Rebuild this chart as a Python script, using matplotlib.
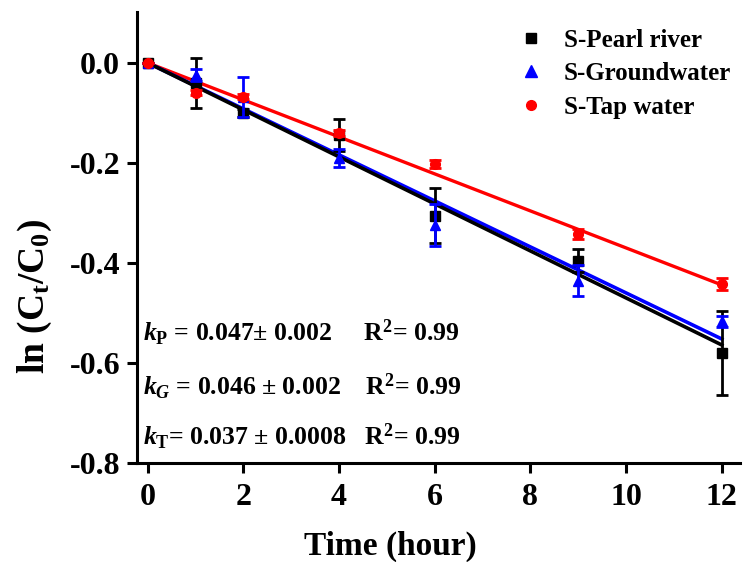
import matplotlib
matplotlib.use('Agg')
import matplotlib.pyplot as plt
from matplotlib.lines import Line2D
import numpy as np

plt.rcParams['font.family'] = 'Liberation Serif'
plt.rcParams['font.weight'] = 'bold'
plt.rcParams['mathtext.fontset'] = 'custom'
plt.rcParams['mathtext.rm'] = 'Liberation Serif:bold'
plt.rcParams['mathtext.bf'] = 'Liberation Serif:bold'
plt.rcParams['mathtext.it'] = 'Liberation Serif:italic:bold'

# time points (hour)
time = [0, 1, 2, 4, 6, 9, 12]

# S-Pearl river
pearl = [0.0, -0.040, -0.100, -0.145, -0.306, -0.396, -0.580]
pearl_err = [0.0, 0.050, 0.008, 0.032, 0.055, 0.023, 0.084]

# S-Groundwater
ground = [0.0, -0.025, -0.068, -0.190, -0.325, -0.436, -0.517]
ground_err = [0.0, 0.012, 0.040, 0.018, 0.042, 0.031, 0.010]

# S-Tap water
tap = [0.0, -0.060, -0.068, -0.140, -0.203, -0.343, -0.443]
tap_err = [0.0, 0.005, 0.005, 0.006, 0.008, 0.010, 0.012]

# fitted rate constants (slope of ln(Ct/C0) vs t)
k_pearl = 0.047
k_ground = 0.046
k_tap = 0.037

fig = plt.figure(figsize=(7.43, 5.62), dpi=100)
ax = fig.add_axes([0.184, 0.176, 0.812, 0.803])

t_fit = np.array([time[0], time[-1]])
ax.plot(t_fit, -k_tap * t_fit, color='red', lw=2.4, zorder=2)
ax.plot(t_fit, -k_ground * t_fit, color='blue', lw=2.6, zorder=2)
ax.plot(t_fit, -k_pearl * t_fit, color='black', lw=2.6, zorder=2)

eb = dict(capsize=4, elinewidth=2, capthick=2, lw=0, ms=7)
ax.errorbar(time, pearl, yerr=pearl_err, fmt='s', color='black', zorder=3, **eb)
ax.errorbar(time, ground, yerr=ground_err, fmt='^', color='blue', zorder=4, **eb)
ax.errorbar(time, tap, yerr=tap_err, fmt='o', color='red', zorder=5, **eb)

ax.set_xlim(-0.23, 12.38)
ax.set_ylim(-0.8, 0.102)
ax.set_xticks([0, 2, 4, 6, 8, 10, 12])
ax.set_yticks([0.0, -0.2, -0.4, -0.6, -0.8])
ax.set_yticklabels(['0.0', '-0.2', '-0.4', '-0.6', '-0.8'])

for s in ['top', 'right']:
    ax.spines[s].set_visible(False)
for s in ['left', 'bottom']:
    ax.spines[s].set_linewidth(2.2)
ax.tick_params(direction='out', length=7, width=2.2, labelsize=23, pad=5)
ax.tick_params(axis='x', pad=7)
for lab in ax.get_xticklabels() + ax.get_yticklabels():
    lab.set_fontweight('bold')

ax.set_xlabel('Time (hour)', fontsize=24, fontweight='bold')
ax.xaxis.set_label_coords(0.42, -0.15)
ax.set_ylabel(r'ln (C$_\mathrm{t}$/C$_\mathrm{0}$)', fontsize=27, fontweight='bold')
ax.yaxis.set_label_coords(-0.168, 0.37)
ax.yaxis.label.set_va('center')

handles = [
    Line2D([], [], marker='s', color='black', ls='none', ms=7),
    Line2D([], [], marker='^', color='blue', ls='none', ms=8),
    Line2D([], [], marker='o', color='red', ls='none', ms=7),
]
labels = ['S-Pearl river', 'S-Groundwater', 'S-Tap water']
ax.legend(handles, labels, loc='upper left', bbox_to_anchor=(0.617, 0.985),
          frameon=False, fontsize=18, handlelength=1.0, handletextpad=0.8,
          labelspacing=0.42, borderaxespad=0)

fs = 18.5
ax.text(0.01, 0.288, r'$k_{\mathrm{P}}$ = 0.047± 0.002     R$^2$= 0.99',
        transform=ax.transAxes, fontsize=fs, fontweight='bold', va='center')
ax.text(0.01, 0.169, r'$k_{G}$ = 0.046 ± 0.002    R$^2$= 0.99',
        transform=ax.transAxes, fontsize=fs, fontweight='bold', va='center')
ax.text(0.01, 0.058, r'$k_{\mathrm{T}}$= 0.037 ± 0.0008   R$^2$= 0.99',
        transform=ax.transAxes, fontsize=fs, fontweight='bold', va='center')

fig.savefig('out.png', dpi=100)
